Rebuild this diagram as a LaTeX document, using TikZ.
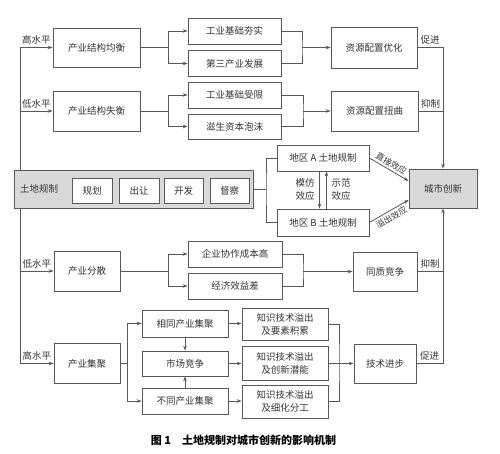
\documentclass[tikz,border=0pt]{standalone}
\usepackage{fontspec}
\setmainfont{Noto Sans CJK SC}
\usetikzlibrary{arrows.meta}
\definecolor{lc}{HTML}{585858}
\definecolor{tc}{HTML}{333333}
\definecolor{gf}{HTML}{D9D9D9}
\begin{document}
\begin{tikzpicture}[x=1pt,y=-1pt,
  font=\fontsize{9.5}{13}\selectfont,
  bx/.style={draw=lc, line width=0.8pt, inner sep=1pt, text=tc, align=center},
  ln/.style={draw=lc, line width=0.8pt},
  arr/.style={ln, -{Stealth[length=5pt,width=3.6pt]}},
  lab/.style={text=tc, inner sep=1.5pt, align=center}]
\fill[white] (0,0) rectangle (500,454);
\useasboundingbox (0,0) rectangle (500,454);

% row 1
\node[bx, minimum width=87pt, minimum height=39pt] (s1) at (96.5,47.5) {产业结构均衡};
\node[bx, minimum width=93pt, minimum height=26pt] (a1) at (234.5,31) {工业基础夯实};
\node[bx, minimum width=93pt, minimum height=26pt] (a2) at (234.5,63.5) {第三产业发展};
\node[bx, minimum width=86pt, minimum height=41pt] (r1) at (374,47.5) {资源配置优化};
% row 2
\node[bx, minimum width=87pt, minimum height=40pt] (s2) at (96.5,111) {产业结构失衡};
\node[bx, minimum width=93pt, minimum height=26pt] (b1) at (234.5,95) {工业基础受限};
\node[bx, minimum width=93pt, minimum height=25pt] (b2) at (234.5,126.5) {滋生资本泡沫};
\node[bx, minimum width=87pt, minimum height=40pt] (r2) at (374.5,111) {资源配置扭曲};
% land regulation
\node[bx, fill=gf, minimum width=239pt, minimum height=38pt] (lr) at (133.5,189) {};
\node[lab] (lrt) at (39,189) {土地规制};
\node[bx, fill=white, minimum width=40pt, minimum height=25pt] (p1) at (92,190.5) {规划};
\node[bx, fill=white, minimum width=40pt, minimum height=25pt] (p2) at (139,190.5) {出让};
\node[bx, fill=white, minimum width=39pt, minimum height=25pt] (p3) at (183.5,190.5) {开发};
\node[bx, fill=white, minimum width=39pt, minimum height=25pt] (p4) at (229.5,190.5) {督察};
\node[bx, minimum width=92pt, minimum height=26pt] (A) at (323,158) {地区 A 土地规制};
\node[bx, minimum width=92pt, minimum height=27pt] (B) at (323,222.5) {地区 B 土地规制};
\node[bx, fill=gf, minimum width=68pt, minimum height=39pt] (cx) at (443,188.5) {城市创新};
% row 3
\node[bx, minimum width=66pt, minimum height=40pt] (s3) at (87,271) {产业分散};
\node[bx, minimum width=94pt, minimum height=26pt] (c1) at (235,254) {企业协作成本高};
\node[bx, minimum width=94pt, minimum height=26pt] (c2) at (235,286) {经济效益差};
\node[bx, minimum width=64pt, minimum height=39pt] (r3) at (385,271.5) {同质竞争};
% row 4
\node[bx, minimum width=66pt, minimum height=40pt] (s4) at (87,363.5) {产业集聚};
\node[bx, minimum width=86pt, minimum height=27pt] (d1) at (185,323.5) {相同产业集聚};
\node[bx, minimum width=86pt, minimum height=25pt] (d2) at (185,363.5) {市场竞争};
\node[bx, minimum width=86pt, minimum height=26pt] (d3) at (185,401) {不同产业集聚};
\node[bx, minimum width=86pt, minimum height=32pt] (e1) at (285,324) {知识技术溢出\\及要素积累};
\node[bx, minimum width=86pt, minimum height=34pt] (e2) at (285,363.5) {知识技术溢出\\及创新潜能};
\node[bx, minimum width=86pt, minimum height=33pt] (e3) at (285,401.5) {知识技术溢出\\及细化分工};
\node[bx, minimum width=62pt, minimum height=39pt] (r4) at (385,363.5) {技术进步};

% caption
\node[text=black, font=\fontsize{11}{13}\selectfont\bfseries] (cap) at (243.5,440) {图 1\quad 土地规制对城市创新的影响机制};

% main left spine
\coordinate (L1) at (20,47.5);
\coordinate (L2) at (20,111);
\coordinate (L3) at (20,271);
\coordinate (L4) at (20,363.5);
\draw[ln] (L1) -- (L1 |- lr.north);
\draw[ln] (L1 |- lr.south) -- (L4);
\draw[arr] (L1) -- node[lab, above=1pt] {高水平} (s1);
\draw[arr] (L2) -- node[lab, above=1pt] {低水平} (s2);
\draw[arr] (L3) -- node[lab, above=1pt] {低水平} (s3);
\draw[arr] (L4) -- node[lab, above=1pt] {高水平} (s4);

% row 1 branches
\coordinate (j1) at (168,47.5);
\draw[ln] (s1.east) -- (j1);
\draw[ln] (j1 |- a1) -- (j1 |- a2);
\draw[arr] (j1 |- a1) -- (a1);
\draw[arr] (j1 |- a2) -- (a2);
\coordinate (m1) at (302,47.5);
\draw[ln] (a1.east) -| (m1) |- (a2.east);
\draw[arr] (m1) -- (r1);
% row 2 branches
\coordinate (j2) at (168,111);
\draw[ln] (s2.east) -- (j2);
\draw[ln] (j2 |- b1) -- (j2 |- b2);
\draw[arr] (j2 |- b1) -- (b1);
\draw[arr] (j2 |- b2) -- (b2);
\coordinate (m2) at (303,111);
\draw[ln] (b1.east) -| (m2) |- (b2.east);
\draw[arr] (m2) -- (r2);
% right spine top
\draw[ln] (r1.east) -- node[lab, above=1pt] {促进} (cx.north |- r1.east);
\draw[ln] (r2.east) -- node[lab, above=1pt] {抑制} (cx.north |- r2.east);
\draw[arr] (cx.north |- r1.east) -- (cx.north);

% land regulation to regions
\coordinate (jr) at (266,189);
\draw[ln] (lr.east) -- (jr);
\draw[ln] (A.west) -| (jr) |- (B.west);
\draw[arr] ([xshift=-3.5pt]A.south) -- ([xshift=-3.5pt]B.north);
\draw[arr] ([xshift=3.5pt]B.north) -- ([xshift=3.5pt]A.south);
\node[lab] (imit) at (305,189.5) {模仿\\效应};
\node[lab] (demo) at (341,189.5) {示范\\效应};
\draw[arr] (A.east) -- node[lab, sloped, above=1.5pt, pos=0.48, inner sep=0.5pt, font=\fontsize{8.5}{10}\selectfont] {直接效应} ([yshift=7.5pt]cx.west);
\draw[arr] (B.east) -- node[lab, sloped, below=1.5pt, pos=0.48, inner sep=0.5pt, font=\fontsize{8.5}{10}\selectfont] {溢出效应} ([yshift=-11.5pt]cx.west);

% row 3 branches
\coordinate (j3) at (168,271);
\draw[ln] (s3.east) -- (j3);
\draw[ln] (j3 |- c1) -- (j3 |- c2);
\draw[arr] (j3 |- c1) -- (c1);
\draw[arr] (j3 |- c2) -- (c2);
\coordinate (m3) at (303,271.5);
\draw[ln] (c1.east) -| (m3) |- (c2.east);
\draw[arr] (m3) -- (r3);

% row 4 branches
\coordinate (j4) at (127,363.5);
\draw[ln] (s4.east) -- (j4);
\draw[ln] (j4 |- d1) -- (j4 |- d3);
\draw[arr] (j4 |- d1) -- (d1);
\draw[arr] (j4 |- d3) -- (d3);
\draw[arr] (d1) -- (d2);
\draw[arr] (d3) -- (d2);
\draw[arr] (d1) -- (e1.west |- d1);
\draw[arr] (d2) -- (e2);
\draw[arr] (d3) -- (e3.west |- d3);
\coordinate (m4) at (339,363.5);
\draw[ln] (e1.east) -| (m4) |- (e3.east);
\draw[arr] (e2.east) -- (r4);

% right spine bottom
\draw[ln] (r3.east) -- node[lab, above=1pt] {抑制} (cx.south |- r3.east);
\draw[ln] (r4.east) -- node[lab, above=1pt] {促进} (cx.south |- r4.east);
\draw[arr] (cx.south |- r4.east) -- (cx.south);
\end{tikzpicture}
\end{document}
